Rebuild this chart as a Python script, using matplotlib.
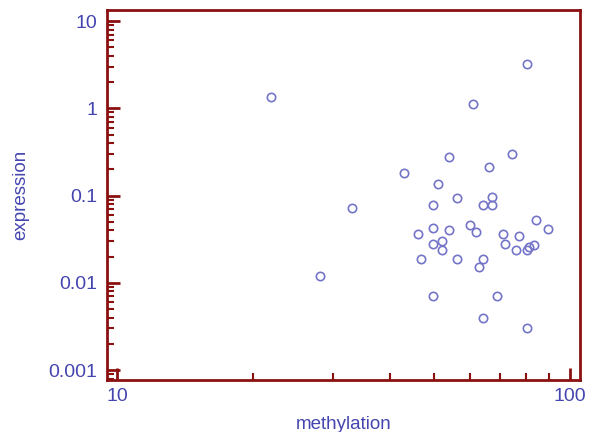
import matplotlib
matplotlib.use("Agg")
import matplotlib.pyplot as plt
from matplotlib.ticker import LogLocator, FixedLocator, FixedFormatter, NullFormatter

# methylation (%) vs expression
methylation = [43.0, 54.0, 74.3, 66.2, 51.1, 56.2, 49.9, 67.2, 64.2, 67.2,
               84.1, 89.3, 49.9, 54.0, 60.1, 61.9, 46.2, 71.2, 77.1, 49.9,
               52.2, 52.2, 71.9, 75.9, 80.2, 81.3, 83.1, 47.0, 56.2, 64.2,
               63.1, 49.9, 68.9, 64.2, 80.2, 21.9, 33.0, 28.0, 80.2, 61.1]
expression = [0.18, 0.28, 0.297, 0.211, 0.134, 0.093, 0.078, 0.097, 0.078, 0.078,
              0.052, 0.041, 0.043, 0.040, 0.046, 0.038, 0.036, 0.036, 0.034, 0.028,
              0.030, 0.024, 0.028, 0.024, 0.024, 0.026, 0.027, 0.019, 0.019, 0.019,
              0.015, 0.0070, 0.0070, 0.0040, 0.0030, 1.36, 0.072, 0.012, 3.19, 1.11]

x_ticks = [10, 100]
x_labels = ["10", "100"]
y_ticks = [0.001, 0.01, 0.1, 1, 10]
y_labels = ["0.001", "0.01", "0.1", "1", "10"]

frame = "#8b1010"
txt = "#4545b0"
plt.rcParams["font.family"] = ["Liberation Sans", "DejaVu Sans"]

fig = plt.figure(figsize=(5.92, 4.32), dpi=100)
ax = fig.add_axes([0.1807, 0.1204, 0.799, 0.8565])
ax.plot(methylation, expression, "o", mfc="none", mec="#7474c8", mew=1.2, ms=6)
ax.set_xscale("log"); ax.set_yscale("log")
ax.set_xlim(9.5, 105.2); ax.set_ylim(0.00077, 13.4)

ax.xaxis.set_major_locator(FixedLocator(x_ticks))
ax.xaxis.set_major_formatter(FixedFormatter(x_labels))
ax.yaxis.set_major_locator(FixedLocator(y_ticks))
ax.yaxis.set_major_formatter(FixedFormatter(y_labels))
ax.xaxis.set_minor_locator(LogLocator(base=10, subs=range(2, 10)))
ax.yaxis.set_minor_locator(LogLocator(base=10, subs=range(2, 10)))
ax.xaxis.set_minor_formatter(NullFormatter())
ax.yaxis.set_minor_formatter(NullFormatter())

for s in ax.spines.values():
    s.set_color(frame); s.set_linewidth(2)
ax.tick_params(which="both", direction="in", color=frame, top=False, right=False)
ax.tick_params(which="major", length=9, width=2, labelsize=14, labelcolor=txt)
ax.tick_params(axis="y", which="major", pad=7)
ax.tick_params(axis="x", which="major", pad=6)
ax.tick_params(which="minor", length=5, width=1.5)

ax.set_xlabel("methylation", color=txt, fontsize=13.5, labelpad=8)
ax.set_ylabel("expression", color=txt, fontsize=13.5, labelpad=14)

fig.savefig("out.png", dpi=100)
